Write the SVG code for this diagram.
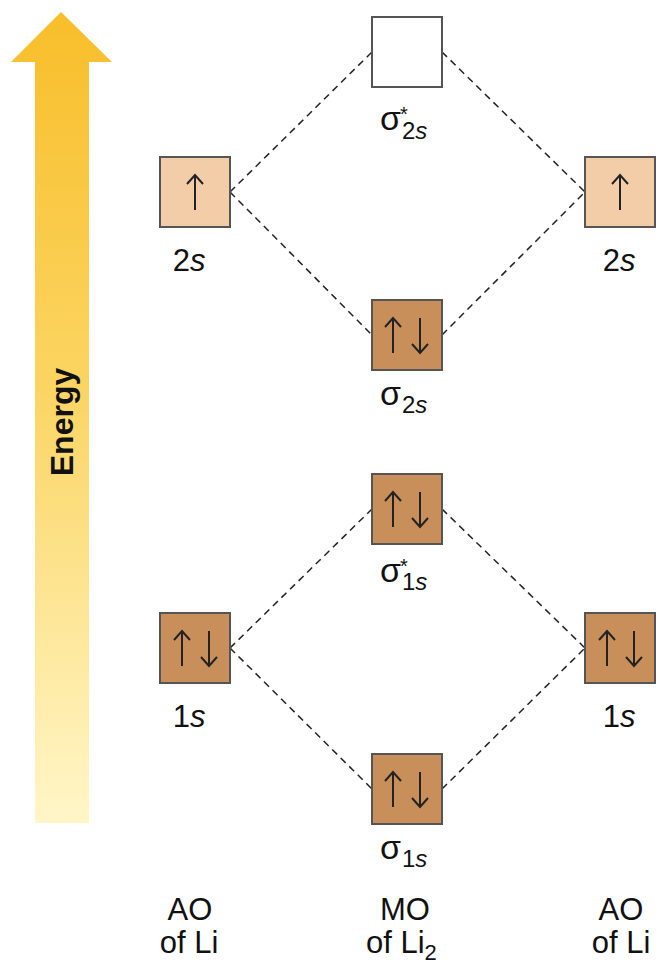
<svg xmlns="http://www.w3.org/2000/svg" width="663" height="966" viewBox="0 0 663 966">
<defs>
<linearGradient id="eg" x1="0" y1="0" x2="0" y2="1">
<stop offset="0" stop-color="#F8BE2A"/>
<stop offset="0.45" stop-color="#FBD460"/>
<stop offset="1" stop-color="#FFF6C8"/>
</linearGradient>
<style>
.box{stroke:#555;stroke-width:2}
.empty{fill:#fff}
.light{fill:#F3CDA8}
.dark{fill:#C98F5A}
.spin{stroke:#222;stroke-width:2;fill:none}
.dash{stroke:#222;stroke-width:1.5;stroke-dasharray:7,5;fill:none}
text{font-family:"Liberation Sans",Arial,sans-serif;fill:#111}
.lbl{font-size:31px;text-anchor:middle}
.sig{font-size:34px}
.star{font-size:20px}
.sub{font-size:24px}
</style>
</defs>
<g id="energy-arrow">
<polygon points="61,12 112,62 89,62 89,823 35,823 35,62 11,62" fill="url(#eg)"/>
<text transform="translate(73,422) rotate(-90)" style="font-size:32px;font-weight:bold;text-anchor:middle">Energy</text>
</g>
<g id="connectors">
<line class="dash" x1="230" y1="192" x2="372" y2="52"/>
<line class="dash" x1="230" y1="192" x2="372" y2="335"/>
<line class="dash" x1="442" y1="52" x2="585" y2="192"/>
<line class="dash" x1="442" y1="335" x2="585" y2="192"/>
<line class="dash" x1="230" y1="648" x2="372" y2="509"/>
<line class="dash" x1="230" y1="648" x2="372" y2="789"/>
<line class="dash" x1="442" y1="509" x2="585" y2="648"/>
<line class="dash" x1="442" y1="789" x2="585" y2="648"/>
</g>
<g id="ao-2s-left">
<rect class="box light" x="160" y="157" width="70" height="70"/>
<path class="spin" d="M195,210 V175 M187,184 L195,175 L203,184"/>
<text class="lbl" x="189" y="271">2<tspan font-style="italic">s</tspan></text>
</g>
<g id="ao-2s-right">
<rect class="box light" x="585" y="157" width="70" height="70"/>
<path class="spin" d="M620,210 V175 M612,184 L620,175 L628,184"/>
<text class="lbl" x="619" y="271">2<tspan font-style="italic">s</tspan></text>
</g>
<g id="mo-sigma-star-2s">
<rect class="box empty" x="372" y="17" width="70" height="70"/>
<text><tspan class="sig" x="380" y="130">σ</tspan><tspan class="star" x="400" y="121">*</tspan><tspan class="sub" x="402" y="139">2<tspan font-style="italic">s</tspan></tspan></text>
</g>
<g id="mo-sigma-2s">
<rect class="box dark" x="372" y="300" width="70" height="70"/>
<path class="spin" d="M393,353 V318 M385,327 L393,318 L401,327 M420,318 V353 M412,344 L420,353 L428,344"/>
<text><tspan class="sig" x="380" y="405">σ</tspan><tspan class="sub" x="402" y="413">2<tspan font-style="italic">s</tspan></tspan></text>
</g>
<g id="mo-sigma-star-1s">
<rect class="box dark" x="372" y="474" width="70" height="70"/>
<path class="spin" d="M393,527 V492 M385,501 L393,492 L401,501 M420,492 V527 M412,518 L420,527 L428,518"/>
<text><tspan class="sig" x="380" y="582">σ</tspan><tspan class="star" x="400" y="573">*</tspan><tspan class="sub" x="402" y="590">1<tspan font-style="italic">s</tspan></tspan></text>
</g>
<g id="ao-1s-left">
<rect class="box dark" x="160" y="613" width="70" height="70"/>
<path class="spin" d="M182,666 V631 M174,640 L182,631 L190,640 M209,631 V666 M201,657 L209,666 L217,657"/>
<text class="lbl" x="189" y="727">1<tspan font-style="italic">s</tspan></text>
</g>
<g id="ao-1s-right">
<rect class="box dark" x="585" y="613" width="70" height="70"/>
<path class="spin" d="M607,666 V631 M599,640 L607,631 L615,640 M634,631 V666 M626,657 L634,666 L642,657"/>
<text class="lbl" x="619" y="727">1<tspan font-style="italic">s</tspan></text>
</g>
<g id="mo-sigma-1s">
<rect class="box dark" x="372" y="754" width="70" height="70"/>
<path class="spin" d="M393,807 V772 M385,781 L393,772 L401,781 M420,772 V807 M412,798 L420,807 L428,798"/>
<text><tspan class="sig" x="380" y="859">σ</tspan><tspan class="sub" x="402" y="867">1<tspan font-style="italic">s</tspan></tspan></text>
</g>
<g id="label-ao-left">
<text class="lbl" x="190" y="920">AO</text>
<text class="lbl" x="189" y="953">of Li</text>
</g>
<g id="label-mo">
<text class="lbl" x="405" y="920">MO</text>
<text x="366" y="953" style="font-size:31px">of Li<tspan dy="7" style="font-size:22px">2</tspan></text>
</g>
<g id="label-ao-right">
<text class="lbl" x="621" y="920">AO</text>
<text class="lbl" x="621" y="953">of Li</text>
</g>
</svg>
